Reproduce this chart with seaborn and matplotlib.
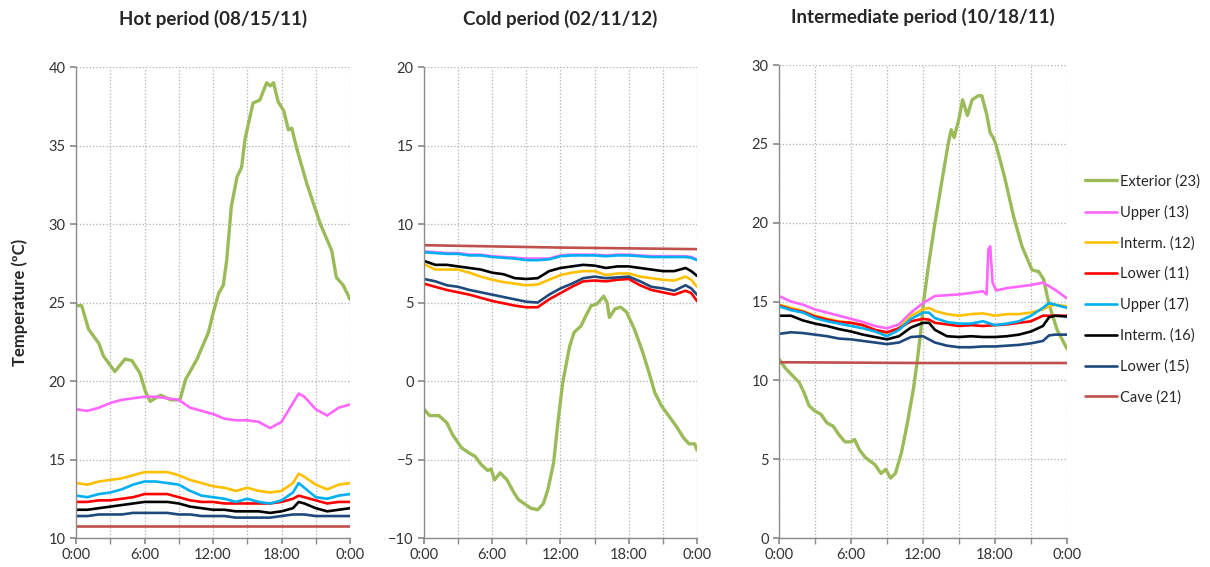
import matplotlib
matplotlib.use("Agg")
import matplotlib.pyplot as plt
import seaborn as sns

# series names / colours (legend order = drawing order)
names = ["Exterior (23)", "Upper (13)", "Interm. (12)", "Lower (11)",
         "Upper (17)", "Interm. (16)", "Lower (15)", "Cave (21)"]
colors = ["#9BBB59", "#FF66FF", "#FFC000", "#FF0000",
          "#00B0F0", "#000000", "#1F497D", "#C0504D"]

titles = ["Hot period (08/15/11)", "Cold period (02/11/12)", "Intermediate period (10/18/11)"]
x_labels = ["0:00", "6:00", "12:00", "18:00", "0:00"]

# ---------------- Hot period ----------------
hot_ext_t = [0, 0.5, 1.1, 2, 2.4, 3.4, 4.3, 4.9, 5.6, 6.1, 6.5, 7.4, 8.3, 9.1, 9.6, 10.6, 11.6,
             12, 12.5, 12.9, 13.2, 13.6, 14.1, 14.5, 14.8, 15.5, 16.1, 16.7, 17.0, 17.3, 17.7,
             18.2, 18.6, 18.9, 19.3, 20.2, 21.4, 22.4, 22.8, 23.4, 24]
hot_ext = [24.8, 24.8, 23.3, 22.4, 21.6, 20.6, 21.4, 21.3, 20.5, 19.3, 18.7, 19.1, 18.8, 18.8, 20.1,
           21.4, 23.1, 24.3, 25.6, 26.1, 27.7, 31.1, 33.0, 33.6, 35.4, 37.7, 37.9, 39.0, 38.8, 39.0,
           37.8, 37.2, 36.0, 36.1, 34.9, 32.6, 30.0, 28.3, 26.6, 26.1, 25.2]
hot_t = [0, 1, 2, 3, 4, 5, 6, 7, 8, 9, 10, 11, 12, 13, 14, 15, 16, 17, 18, 19, 19.5, 20, 21, 22, 23, 24]
hot_up13 = [18.2, 18.1, 18.3, 18.6, 18.8, 18.9, 19.0, 19.0, 18.9, 18.8, 18.3, 18.1, 17.9, 17.6, 17.5,
            17.5, 17.4, 17.0, 17.4, 18.6, 19.2, 19.0, 18.2, 17.8, 18.3, 18.5]
hot_int12 = [13.5, 13.4, 13.6, 13.7, 13.8, 14.0, 14.2, 14.2, 14.2, 14.0, 13.7, 13.5, 13.3, 13.2, 13.0,
             13.2, 13.0, 12.9, 13.0, 13.5, 14.1, 13.9, 13.4, 13.1, 13.4, 13.5]
hot_low11 = [12.3, 12.3, 12.4, 12.4, 12.5, 12.6, 12.8, 12.8, 12.8, 12.6, 12.4, 12.3, 12.3, 12.2, 12.2,
             12.2, 12.2, 12.2, 12.3, 12.5, 12.7, 12.6, 12.4, 12.2, 12.3, 12.3]
hot_up17 = [12.7, 12.6, 12.8, 12.9, 13.1, 13.4, 13.6, 13.6, 13.5, 13.4, 13.0, 12.7, 12.6, 12.5, 12.3,
            12.5, 12.3, 12.2, 12.4, 12.9, 13.5, 13.2, 12.6, 12.5, 12.7, 12.8]
hot_int16 = [11.8, 11.8, 11.9, 12.0, 12.1, 12.2, 12.3, 12.3, 12.3, 12.2, 12.0, 11.9, 11.8, 11.8, 11.7,
             11.7, 11.7, 11.6, 11.7, 11.9, 12.3, 12.2, 11.9, 11.7, 11.8, 11.9]
hot_low15 = [11.4, 11.4, 11.5, 11.5, 11.5, 11.6, 11.6, 11.6, 11.6, 11.5, 11.5, 11.4, 11.4, 11.4, 11.3,
             11.3, 11.3, 11.3, 11.4, 11.5, 11.5, 11.5, 11.4, 11.4, 11.4, 11.4]
hot_cave_t = [0, 12, 24]
hot_cave = [10.75, 10.75, 10.75]

# ---------------- Cold period ----------------
cold_ext_t = [0, 0.5, 1.3, 2, 2.5, 3.3, 4, 4.5, 5.0, 5.6, 5.9, 6.2, 6.7, 7.3, 7.9, 8.3, 9.0, 9.4, 10.0,
              10.5, 10.9, 11.4, 11.8, 12.2, 12.8, 13.2, 13.8, 14.3, 14.7, 15.2, 15.8, 16.1, 16.3,
              16.8, 17.3, 17.8, 18.5, 19.2, 19.8, 20.3, 20.9, 21.5, 22.2, 22.8, 23.3, 23.8, 24]
cold_ext = [-1.8, -2.2, -2.2, -2.65, -3.4, -4.25, -4.6, -4.8, -5.3, -5.7, -5.6, -6.3, -5.85, -6.3,
            -7.1, -7.55, -7.9, -8.1, -8.2, -7.8, -6.9, -5.2, -2.45, -0.1, 2.2, 3.1, 3.5, 4.25, 4.8,
            4.9, 5.4, 5.0, 4.05, 4.6, 4.7, 4.4, 3.3, 1.9, 0.5, -0.75, -1.6, -2.2, -2.9, -3.6, -4.0,
            -4.0, -4.4]
cold_t = [0, 1, 2, 3, 4, 5, 6, 7, 8, 9, 10, 11, 12, 13, 14, 15, 16, 17, 18, 19, 20, 21, 22, 23, 23.5, 24]
cold_up13 = [8.25, 8.2, 8.15, 8.15, 8.05, 8.05, 7.95, 7.9, 7.85, 7.8, 7.8, 7.8, 8.0, 8.05, 8.05, 8.05,
             8.0, 8.05, 8.05, 8.0, 7.95, 7.95, 7.95, 7.95, 7.9, 7.75]
cold_int12 = [7.45, 7.1, 7.1, 7.1, 6.9, 6.65, 6.45, 6.3, 6.2, 6.1, 6.15, 6.45, 6.75, 6.9, 7.0, 7.0,
              6.75, 6.85, 6.85, 6.65, 6.55, 6.45, 6.4, 6.65, 6.45, 6.0]
cold_low11 = [6.2, 6.0, 5.8, 5.65, 5.5, 5.3, 5.1, 4.95, 4.8, 4.7, 4.7, 5.2, 5.6, 6.0, 6.35, 6.4, 6.35,
              6.45, 6.5, 6.1, 5.8, 5.65, 5.5, 5.75, 5.6, 5.1]
cold_up17 = [8.2, 8.15, 8.1, 8.1, 8.0, 8.0, 7.9, 7.85, 7.8, 7.7, 7.7, 7.75, 7.95, 8.0, 8.0, 8.0, 7.95,
             8.0, 8.0, 7.95, 7.9, 7.9, 7.9, 7.9, 7.85, 7.7]
cold_int16 = [7.65, 7.4, 7.4, 7.3, 7.2, 7.1, 6.9, 6.8, 6.55, 6.5, 6.55, 7.0, 7.2, 7.3, 7.4, 7.35, 7.2,
              7.3, 7.3, 7.2, 7.1, 7.0, 7.0, 7.2, 7.0, 6.7]
cold_low15 = [6.5, 6.35, 6.1, 6.0, 5.8, 5.65, 5.5, 5.35, 5.2, 5.05, 5.0, 5.5, 5.9, 6.2, 6.55, 6.65,
              6.55, 6.6, 6.65, 6.35, 6.0, 5.9, 5.75, 6.1, 5.9, 5.5]
cold_cave_t = [0, 12, 24]
cold_cave = [8.65, 8.5, 8.4]

# ---------------- Intermediate period ----------------
int_ext_t = [0, 0.5, 1, 1.7, 2.1, 2.5, 3, 3.5, 4, 4.5, 5, 5.5, 6, 6.3, 6.7, 7.2, 8, 8.5, 8.9, 9.3, 9.7,
             10.2, 10.7, 11.2, 11.5, 11.8, 12.05, 12.5, 13.0, 13.5, 14.1, 14.35, 14.6, 15.0, 15.3,
             15.7, 16.1, 16.6, 16.9, 17.3, 17.6, 17.85, 18.1, 18.8, 19.55, 20.25, 21.09, 21.64,
             22.06, 22.48, 23.18, 23.87, 24]
int_ext = [11.35, 10.8, 10.4, 9.85, 9.2, 8.4, 8.05, 7.85, 7.3, 7.1, 6.55, 6.1, 6.1, 6.25, 5.6, 5.1,
           4.65, 4.1, 4.35, 3.8, 4.1, 5.4, 7.3, 9.45, 11.1, 13.0, 15.0, 17.5, 20.0, 22.3, 25.0, 25.9,
           25.4, 26.6, 27.8, 26.8, 27.8, 28.05, 28.05, 26.9, 25.7, 25.4, 24.9, 22.9, 20.4, 18.5,
           17.0, 16.9, 16.4, 14.9, 13.2, 12.2, 12.0]
int_up13_t = [0, 1, 2, 3, 4, 5, 6, 7, 8, 9, 10, 11, 12, 13, 14, 15, 16, 17, 17.3, 17.45, 17.6, 17.8,
              18.1, 19, 20, 21, 22, 23, 24]
int_up13 = [15.35, 15.0, 14.8, 14.5, 14.3, 14.1, 13.9, 13.7, 13.45, 13.3, 13.55, 14.3, 14.9, 15.35,
            15.4, 15.45, 15.55, 15.65, 15.45, 18.3, 18.5, 16.2, 15.7, 15.85, 15.95, 16.05, 16.2,
            15.75, 15.2]
int_t = [0, 1, 2, 3, 4, 5, 6, 7, 8, 9, 10, 11, 12, 12.5, 13, 14, 15, 16, 17, 18, 19, 20, 21, 22,
         22.5, 23, 24]
int_int12 = [14.8, 14.6, 14.4, 14.1, 13.9, 13.75, 13.65, 13.5, 13.2, 13.0, 13.3, 14.1, 14.5, 14.6,
             14.4, 14.2, 14.1, 14.2, 14.25, 14.1, 14.2, 14.2, 14.3, 14.5, 14.7, 14.8, 14.7]
int_low11 = [14.75, 14.5, 14.35, 14.05, 13.85, 13.7, 13.65, 13.5, 13.2, 13.05, 13.3, 13.75, 13.9,
             13.85, 13.65, 13.55, 13.45, 13.5, 13.45, 13.5, 13.55, 13.65, 13.75, 14.1, 14.1, 14.1,
             14.1]
int_up17 = [14.7, 14.45, 14.3, 13.95, 13.75, 13.6, 13.45, 13.3, 13.1, 12.8, 13.2, 13.9, 14.3, 14.3,
            13.95, 13.7, 13.6, 13.6, 13.75, 13.5, 13.6, 13.75, 14.1, 14.6, 14.9, 14.8, 14.6]
int_int16 = [14.1, 14.1, 13.8, 13.6, 13.45, 13.25, 13.1, 12.9, 12.75, 12.6, 12.8, 13.35, 13.65, 13.65,
             13.2, 12.8, 12.75, 12.8, 12.75, 12.75, 12.8, 12.9, 13.1, 13.45, 14.0, 14.1, 14.05]
int_low15 = [12.95, 13.05, 13.0, 12.9, 12.8, 12.65, 12.6, 12.5, 12.4, 12.3, 12.4, 12.75, 12.8, 12.6,
             12.4, 12.2, 12.1, 12.1, 12.15, 12.15, 12.2, 12.25, 12.35, 12.5, 12.85, 12.9, 12.9]
int_cave_t = [0, 12, 24]
int_cave = [11.15, 11.1, 11.1]

panels = [
    [(hot_ext_t, hot_ext), (hot_t, hot_up13), (hot_t, hot_int12), (hot_t, hot_low11),
     (hot_t, hot_up17), (hot_t, hot_int16), (hot_t, hot_low15), (hot_cave_t, hot_cave)],
    [(cold_ext_t, cold_ext), (cold_t, cold_up13), (cold_t, cold_int12), (cold_t, cold_low11),
     (cold_t, cold_up17), (cold_t, cold_int16), (cold_t, cold_low15), (cold_cave_t, cold_cave)],
    [(int_ext_t, int_ext), (int_up13_t, int_up13), (int_t, int_int12), (int_t, int_low11),
     (int_t, int_up17), (int_t, int_int16), (int_t, int_low15), (int_cave_t, int_cave)],
]
y_ranges = [(10, 40), (-10, 20), (0, 30)]

sns.set_theme(style="white")
plt.rcParams["font.family"] = ["Lato", "DejaVu Sans"]

fig = plt.figure(figsize=(12.1, 5.67), dpi=100)
axes_pos = [[0.0628, 0.0511, 0.2265, 0.8307],
            [0.3504, 0.0511, 0.2256, 0.8307],
            [0.6438, 0.0511, 0.2380, 0.8342]]

for i, pos in enumerate(axes_pos):
    ax = fig.add_axes(pos)
    for (t, v), name, col in zip(panels[i], names, colors):
        lw = 2.4 if name.startswith("Exterior") else 1.9
        sns.lineplot(x=t, y=v, ax=ax, color=col, lw=lw, label=name, legend=False)
    ax.set_xlim(0, 24)
    ax.set_ylim(*y_ranges[i])
    ax.set_xticks([0, 6, 12, 18, 24])
    ax.set_xticklabels(x_labels)
    ax.set_xticks([3, 9, 15, 21], minor=True)
    ax.set_yticks(range(y_ranges[i][0], y_ranges[i][1] + 1, 5))
    ax.grid(True, which="both", color="#B0B0B0", linestyle=":", lw=0.9)
    for s in ["top", "right"]:
        ax.spines[s].set_visible(False)
    for s in ["left", "bottom"]:
        ax.spines[s].set_color("#8C8C8C")
        ax.spines[s].set_linewidth(1.0)
    ax.tick_params(axis="both", which="both", direction="out", length=4, color="#8C8C8C",
                   labelsize=10.5, labelcolor="#333333", left=True, bottom=True)
    ax.set_xlabel("")
    ax.set_ylabel("")
    ax.set_title(titles[i], fontsize=13.5, fontweight="bold", pad=30)

fig.text(0.016, 0.466, "Temperature (ºC)", rotation=90, va="center", ha="center",
         fontsize=12, fontweight="bold")

handles, labels = fig.axes[2].get_legend_handles_labels()
fig.legend(handles, labels, loc="center left", bbox_to_anchor=(0.886, 0.490), frameon=False,
           fontsize=10.5, handlelength=2.2, handletextpad=0.2, labelspacing=1.12)

fig.savefig("out.png", dpi=100)
